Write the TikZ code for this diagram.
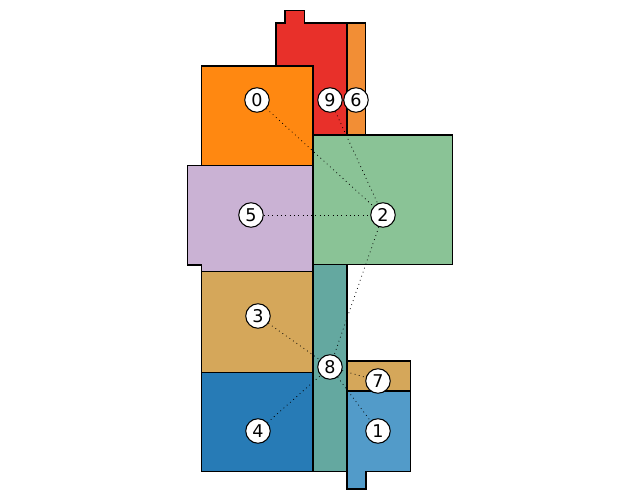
\documentclass[tikz,border=0pt]{standalone}
\usepackage{fontspec}
\setmainfont{DejaVu Sans}
\definecolor{roomA}{HTML}{FF8811}
\definecolor{roomB}{HTML}{E8302A}
\definecolor{roomC}{HTML}{F28E35}
\definecolor{roomD}{HTML}{8AC396}
\definecolor{roomE}{HTML}{CAB2D4}
\definecolor{roomF}{HTML}{D5A75A}
\definecolor{roomG}{HTML}{277BB6}
\definecolor{roomH}{HTML}{64A8A0}
\definecolor{roomI}{HTML}{529BC9}
\begin{document}
\begin{tikzpicture}[x=0.02cm,y=-0.02cm,line join=miter,
    room/.style={draw=black,line width=0.6pt},
    num/.style={circle,draw=black,fill=white,line width=0.6pt,inner sep=0pt,
      minimum size=0.49cm,font=\fontsize{10}{11}\selectfont},
    link/.style={line width=0.45pt,dotted}]
  \useasboundingbox (0,0) rectangle (640,500);
  % rooms
  \draw[room,fill=roomB] (276,23) -- (285,23) -- (285,10.5) -- (304.5,10.5) -- (304.5,23)
    -- (347,23) -- (347,135) -- (313,135) -- (313,66) -- (276,66) -- cycle;
  \draw[room,fill=roomC] (347,23) rectangle (365.7,135);
  \draw[room,fill=roomA] (201.3,66) rectangle (313,165.7);
  \draw[room,fill=roomD] (313,135) rectangle (452.3,264.5);
  \draw[room,fill=roomE] (187.3,165.7) -- (313,165.7) -- (313,271.8) -- (201.3,271.8)
    -- (201.3,265) -- (187.3,265) -- cycle;
  \draw[room,fill=roomH] (313,264.5) rectangle (347,471.3);
  \draw[room,fill=roomF] (201.3,271.8) rectangle (313,372.3);
  \draw[room,fill=roomG] (201.3,372.3) rectangle (313,471.3);
  \draw[room,fill=roomF] (347,361) rectangle (410.3,391);
  \draw[room,fill=roomI] (347,391) -- (410.3,391) -- (410.3,471.3) -- (366,471.3)
    -- (366,489) -- (347,489) -- cycle;
  % rooms as nodes
  \node[num] (n0) at (257,100) {0};
  \node[num] (n9) at (330,100) {9};
  \node[num] (n6) at (356,100) {6};
  \node[num] (n5) at (251,215) {5};
  \node[num] (n2) at (383,215) {2};
  \node[num] (n3) at (258,316) {3};
  \node[num] (n8) at (330,367) {8};
  \node[num] (n7) at (378,381) {7};
  \node[num] (n4) at (258,431) {4};
  \node[num] (n1) at (378,431) {1};
  % doors
  \draw[link] (n0) -- (n2);
  \draw[link] (n9) -- (n6);
  \draw[link] (n9) -- (n2);
  \draw[link] (n5) -- (n2);
  \draw[link] (n2) -- (n8);
  \draw[link] (n3) -- (n8);
  \draw[link] (n4) -- (n8);
  \draw[link] (n8) -- (n7);
  \draw[link] (n8) -- (n1);
\end{tikzpicture}
\end{document}
